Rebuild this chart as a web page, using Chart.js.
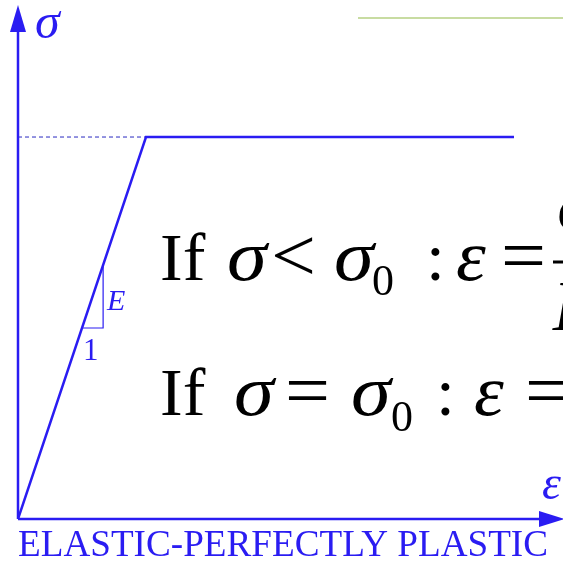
<!DOCTYPE html>
<html>
<head>
<meta charset="utf-8">
<script src="https://cdn.jsdelivr.net/npm/chart.js@4.4.1/dist/chart.umd.min.js"></script>
<style>
  html, body { margin: 0; padding: 0; background: #fff; }
  canvas { display: block; }
</style>
</head>
<body>
<canvas id="ep-Chart" width="563" height="561"></canvas>
<script>
// 弾完全塑性モデル (normalized: yield strain = 1, yield stress = 1)
const strain = [0, 1, 3.875];
const stress = [0, 1, 1];
const yieldStrain = [0, 1];
const yieldStress = [1, 1];
// 勾配三角形 E:1
const slopeFrom = 0.5;
const slopeTo = 0.665;

const BLUE = "#2a1cf2";
const SERIF = "'Liberation Serif', 'Times New Roman', serif";

const diagramPlugin = {
  id: "diagram",
  afterDatasetsDraw(chart) {
    const { ctx, scales: { x, y } } = chart;
    const x0 = Math.round(x.getPixelForValue(0));
    const y0 = Math.round(y.getPixelForValue(0));

    ctx.save();
    ctx.strokeStyle = BLUE;
    ctx.fillStyle = BLUE;

    // 軸
    ctx.lineWidth = 2.5;
    ctx.beginPath();
    ctx.moveTo(x0, y0);
    ctx.lineTo(x0, 28);
    ctx.moveTo(x0, y0);
    ctx.lineTo(540, y0);
    ctx.stroke();
    // 矢印
    ctx.beginPath();
    ctx.moveTo(x0, 5);
    ctx.lineTo(x0 - 8, 32);
    ctx.lineTo(x0 + 8, 32);
    ctx.closePath();
    ctx.fill();
    ctx.beginPath();
    ctx.moveTo(565, y0);
    ctx.lineTo(539, y0 - 8);
    ctx.lineTo(539, y0 + 8);
    ctx.closePath();
    ctx.fill();

    // 勾配三角形
    ctx.lineWidth = 1.2;
    ctx.beginPath();
    ctx.moveTo(x.getPixelForValue(slopeFrom), y.getPixelForValue(slopeFrom));
    ctx.lineTo(x.getPixelForValue(slopeTo), y.getPixelForValue(slopeFrom));
    ctx.lineTo(x.getPixelForValue(slopeTo), y.getPixelForValue(slopeTo));
    ctx.stroke();

    ctx.textBaseline = "alphabetic";
    ctx.textAlign = "left";
    ctx.font = "italic 30px " + SERIF;
    ctx.fillText("E", x.getPixelForValue(slopeTo) + 4, 310);
    ctx.font = "31px " + SERIF;
    ctx.fillText("1", 83, 360);

    // 軸ラベル
    ctx.font = "italic 50px " + SERIF;
    ctx.fillText("σ", 35, 38);
    ctx.font = "italic 48px " + SERIF;
    ctx.fillText("ε", 542, 499);

    ctx.font = "37px " + SERIF;
    const title = "ELASTIC-PERFECTLY PLASTIC";
    const tw = ctx.measureText(title).width;
    ctx.save();
    ctx.translate(18, 556);
    ctx.scale(530 / tw, 1);
    ctx.fillText(title, 0, 0);
    ctx.restore();

    // 構成式
    ctx.fillStyle = "#000";
    ctx.strokeStyle = "#000";
    const big = "68px " + SERIF;
    const op = "76px " + SERIF;
    const bigIt = "italic 72px " + SERIF;
    const sub = "44px " + SERIF;
    const put = (font, text, px, py, sx = 1) => {
      ctx.save();
      ctx.font = font;
      ctx.translate(px, py);
      ctx.scale(sx, 1);
      ctx.fillText(text, 0, 0);
      ctx.restore();
    };
    // 1行目
    put(big, "If", 160, 280);
    put(bigIt, "σ", 227, 280, 1.12);
    put(op, "<", 271, 281, 1.05);
    put(bigIt, "σ", 334, 280, 1.12);
    put(sub, "0", 372, 295);
    put(big, ":", 426, 280);
    put(bigIt, "ε", 456, 280, 1.05);
    put(op, "=", 501, 281, 1.05);
    ctx.lineWidth = 3;
    ctx.beginPath();
    ctx.moveTo(553, 262);
    ctx.lineTo(575, 262);
    ctx.stroke();
    put(bigIt, "σ", 557, 230, 1.12);
    put(bigIt, "E", 553, 330);
    // 2行目
    put(big, "If", 160, 415);
    put(bigIt, "σ", 234, 415, 1.12);
    put(op, "=", 285, 416, 1.05);
    put(bigIt, "σ", 351, 415, 1.12);
    put(sub, "0", 391, 431);
    put(big, ":", 436, 415);
    put(bigIt, "ε", 474, 415, 1.05);
    put(op, "=", 525, 416, 1.05);

    ctx.restore();
  },
  afterDraw(chart) {
    const { ctx } = chart;
    ctx.save();
    ctx.strokeStyle = "#c8dca2";
    ctx.lineWidth = 2;
    ctx.beginPath();
    ctx.moveTo(358, 18);
    ctx.lineTo(563, 18);
    ctx.stroke();
    ctx.restore();
  },
};

const ctx = document.getElementById("ep-Chart");
new Chart(ctx, {
  type: "scatter",
  data: {
    datasets: [
      {
        data: strain.map((e, i) => ({ x: e, y: stress[i] })),
        showLine: true,
        borderColor: BLUE,
        borderWidth: 2.5,
        pointRadius: 0,
        tension: 0,
      },
      {
        data: yieldStrain.map((e, i) => ({ x: e, y: yieldStress[i] })),
        showLine: true,
        borderColor: "#2a2ac0",
        borderWidth: 1,
        borderDash: [4, 3],
        pointRadius: 0,
      },
    ],
  },
  options: {
    responsive: false,
    animation: false,
    layout: { padding: { left: 18, top: 6, right: 0, bottom: 42 } },
    scales: {
      x: { type: "linear", display: false, min: 0, max: 4.258 },
      y: { type: "linear", display: false, min: 0, max: 1.343 },
    },
    plugins: {
      legend: { display: false },
      tooltip: { enabled: false },
    },
  },
  plugins: [diagramPlugin],
});
</script>
</body>
</html>
